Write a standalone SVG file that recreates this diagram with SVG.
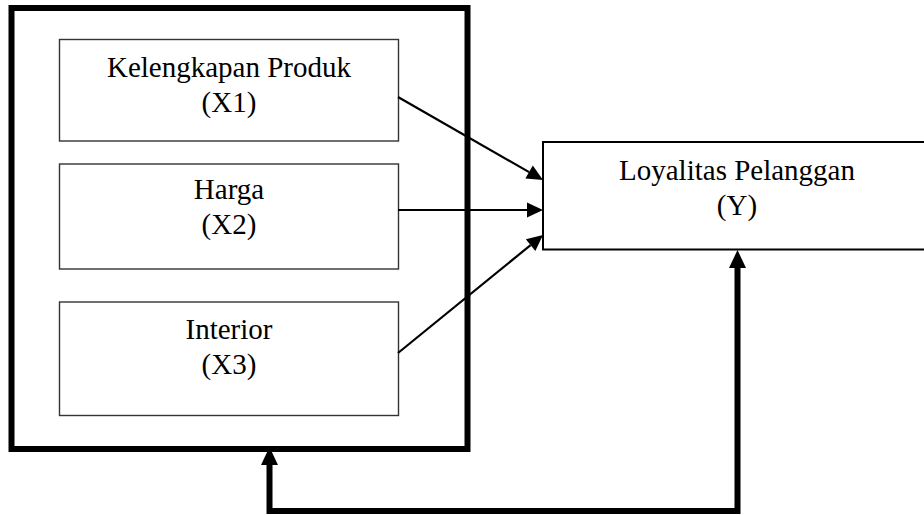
<svg xmlns="http://www.w3.org/2000/svg" width="924" height="515" viewBox="0 0 924 515">
<style>
  .bg{fill:#fff}
  .outer{fill:none;stroke:#000;stroke-width:6}
  .inner{fill:#fff;stroke:#333;stroke-width:1.4}
  .ybox{fill:#fff;stroke:#000;stroke-width:2}
  .t{font-family:"Liberation Serif","Times New Roman",serif;font-size:29px;fill:#000;text-anchor:middle}
  .thin{fill:none;stroke:#000;stroke-width:2.2}
  .thick{fill:none;stroke:#000;stroke-width:6}
</style>
<defs>
  <marker id="ah" markerUnits="userSpaceOnUse" markerWidth="16" markerHeight="15" refX="0" refY="7.5" orient="auto" overflow="visible">
    <path d="M0,0 L16,7.5 L0,15 z" fill="#000"/>
  </marker>
  <marker id="ahb" markerUnits="userSpaceOnUse" markerWidth="18" markerHeight="17" refX="0" refY="8.5" orient="auto-start-reverse" overflow="visible">
    <path d="M0,0 L18,8.5 L0,17 z" fill="#000"/>
  </marker>
</defs>
<rect class="bg" x="0" y="0" width="924" height="515"/>
<g id="group-x">
  <rect class="outer" x="11.5" y="8" width="456" height="441"/>
</g>
<g id="x1">
  <rect class="inner" x="59.5" y="39.5" width="339" height="101.5"/>
  <text class="t" x="229" y="77">Kelengkapan Produk</text>
  <text class="t" x="229" y="112">(X1)</text>
</g>
<g id="x2">
  <rect class="inner" x="59.5" y="164" width="339" height="105"/>
  <text class="t" x="229" y="199">Harga</text>
  <text class="t" x="229" y="234">(X2)</text>
</g>
<g id="x3">
  <rect class="inner" x="59.5" y="302" width="339" height="113.5"/>
  <text class="t" x="229" y="339">Interior</text>
  <text class="t" x="229" y="374">(X3)</text>
</g>
<g id="y">
  <rect class="ybox" x="543" y="142" width="400" height="107.5"/>
  <text class="t" x="737" y="180">Loyalitas Pelanggan</text>
  <text class="t" x="737" y="215">(Y)</text>
</g>
<g id="connectors">
  <line class="thin" x1="398" y1="97" x2="529.1" y2="172.1" marker-end="url(#ah)"/>
  <line class="thin" x1="398" y1="210" x2="527" y2="210" marker-end="url(#ah)"/>
  <line class="thin" x1="398" y1="353" x2="530.6" y2="245.1" marker-end="url(#ah)"/>
  <path class="thick" d="M737.5,268 V511 H269.5 V465" marker-start="url(#ahb)" marker-end="url(#ahb)"/>
</g>
</svg>
